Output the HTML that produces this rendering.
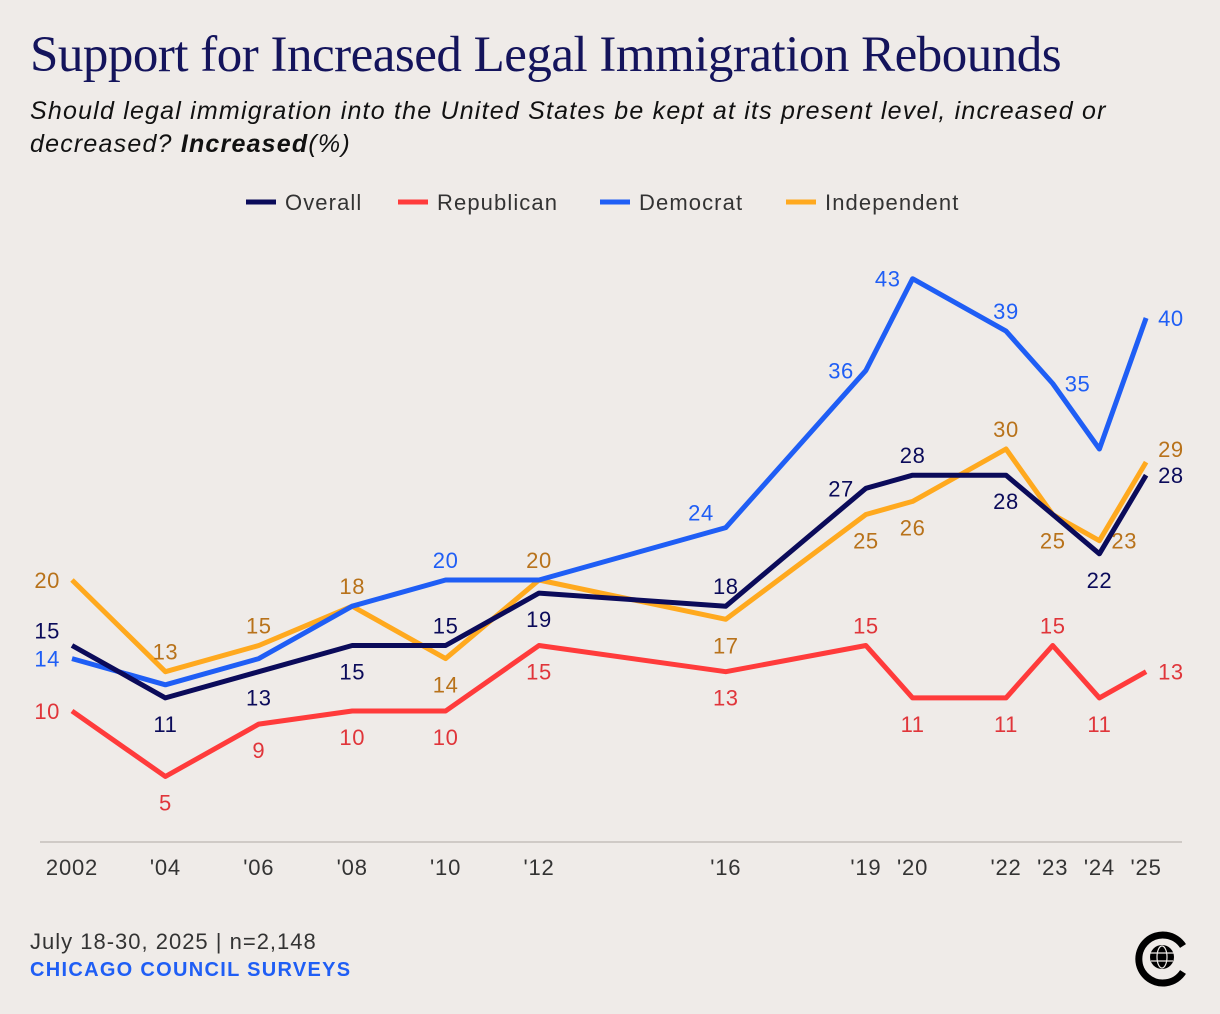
<!DOCTYPE html>
<html><head><meta charset="utf-8"><style>
body{margin:0;background:#efebe8;width:1220px;height:1014px;overflow:hidden;font-family:"Liberation Sans",sans-serif}
.title{position:absolute;left:30px;top:26px;font-family:"Liberation Serif",serif;font-size:51px;color:#14145c;letter-spacing:-0.5px;white-space:nowrap}
.sub{position:absolute;left:30px;top:95px;font-size:25px;font-style:italic;color:#111;line-height:33px;width:1160px;letter-spacing:1.2px}
.foot1{position:absolute;left:30px;top:929px;font-size:22px;color:#333;letter-spacing:1px}
.foot2{position:absolute;left:30px;top:959px;font-size:20px;color:#1f5ef5;font-weight:bold;letter-spacing:1.3px}
svg{position:absolute;left:0;top:0}
</style></head><body>
<div class="title">Support for Increased Legal Immigration Rebounds</div>
<div class="sub">Should legal immigration into the United States be kept at its present level, increased or decreased? <b>Increased</b>(%)</div>
<div class="foot1">July 18-30, 2025 | n=2,148</div>
<div class="foot2">CHICAGO COUNCIL SURVEYS</div>
<svg id="chart" width="1220" height="1014"></svg>
<script>
const years=[2002,2004,2006,2008,2010,2012,2016,2019,2020,2022,2023,2024,2025];
const tickLabels=["2002","'04","'06","'08","'10","'12","'16","'19","'20","'22","'23","'24","'25"];
const seriesNames=["Independent","Democrat","Republican","Overall"];
const overall=[15,11,13,15,15,19,18,27,28,28,25,22,28];
const republican=[10,5,9,10,10,15,13,15,11,11,15,11,13];
const democrat=[14,12,14,18,20,20,24,36,43,39,35,30,40];
const independent=[20,13,15,18,14,20,17,25,26,30,25,23,29];
const overallDir=['ul','d','d','d','u','d','u','l','u','d','','d','r'];
const repDir=['l','d','d','d','d','d','d','u','d','d','u','d','r'];
const demDir=['l','','','','u','','ul','l','l','u','r','','r'];
const indDir=['l','u','u','u','d','u','d','d','d','u','d','r','ur'];
const NS="http://www.w3.org/2000/svg";
const svg=document.getElementById('chart');
const x=y=>72+(y-2002)*46.7;
const yv=v=>842-13.1*v;
function el(t,a){const e=document.createElementNS(NS,t);for(const k in a)e.setAttribute(k,a[k]);svg.appendChild(e);return e;}
const base=el('line',{x1:40,x2:1182,y1:842,y2:842,stroke:'#cfcac6','stroke-width':2});


years.forEach((yr,i)=>{const t=el('text',{x:x(yr),y:875,'text-anchor':'middle','font-size':22,fill:'#333','letter-spacing':0.8});t.textContent=tickLabels[i];

});
const series=[
 {name:'independent',vals:independent,dir:indDir,line:'#ffa91e',lab:'#b8721a'},
 {name:'democrat',vals:democrat,dir:demDir,line:'#1f5ef5',lab:'#1f5ef5'},
 {name:'republican',vals:republican,dir:repDir,line:'#ff3b3b',lab:'#e0353a'},
 {name:'overall',vals:overall,dir:overallDir,line:'#0b0b5a',lab:'#0b0b5a'}];
series.forEach(s=>{
 const p=el('polyline',{points:s.vals.map((v,i)=>x(years[i])+','+yv(v)).join(' '),fill:'none',stroke:s.line,'stroke-width':5,'stroke-linejoin':'round'});
 
 
});
series.forEach(s=>{
 s.vals.forEach((v,i)=>{const d=s.dir[i];if(!d)return;let px=x(years[i]),py=yv(v)+8,a='middle';
  if(d=='u')py-=20;if(d=='d')py+=26;if(d=='l'){px-=12;a='end';}if(d=='r'){px+=12;a='start';}
  if(d=='ul'){px-=12;py-=15;a='end';}if(d=='ur'){px+=12;py-=13;a='start';}
  const t=el('text',{x:px,y:py,'text-anchor':a,'font-size':22,fill:s.lab,'letter-spacing':0.6});t.textContent=v;
  
  });
});
const legend=[['Overall','#0b0b5a',246],['Republican','#ff3b3b',398],['Democrat','#1f5ef5',600],['Independent','#ffa91e',786]];
legend.forEach(l=>{const g=el('line',{x1:l[2],x2:l[2]+30,y1:202,y2:202,stroke:l[1],'stroke-width':5});
 
 
 const t=el('text',{x:l[2]+39,y:210,'font-size':22,fill:'#333','letter-spacing':1.1});t.textContent=l[0];
 
 });
const lg=el('path',{d:'M1183,946 A24,24 0 1 0 1183,972',fill:'none',stroke:'#000','stroke-width':7});


el('circle',{cx:1162,cy:957,r:12,fill:'#000'});
el('ellipse',{cx:1162,cy:957,rx:5,ry:11,fill:'none',stroke:'#efebe8','stroke-width':1.2});
el('line',{x1:1150,x2:1174,y1:953,y2:953,stroke:'#efebe8','stroke-width':1.2});
el('line',{x1:1151,x2:1173,y1:961,y2:961,stroke:'#efebe8','stroke-width':1.2});
</script>
</body></html>
